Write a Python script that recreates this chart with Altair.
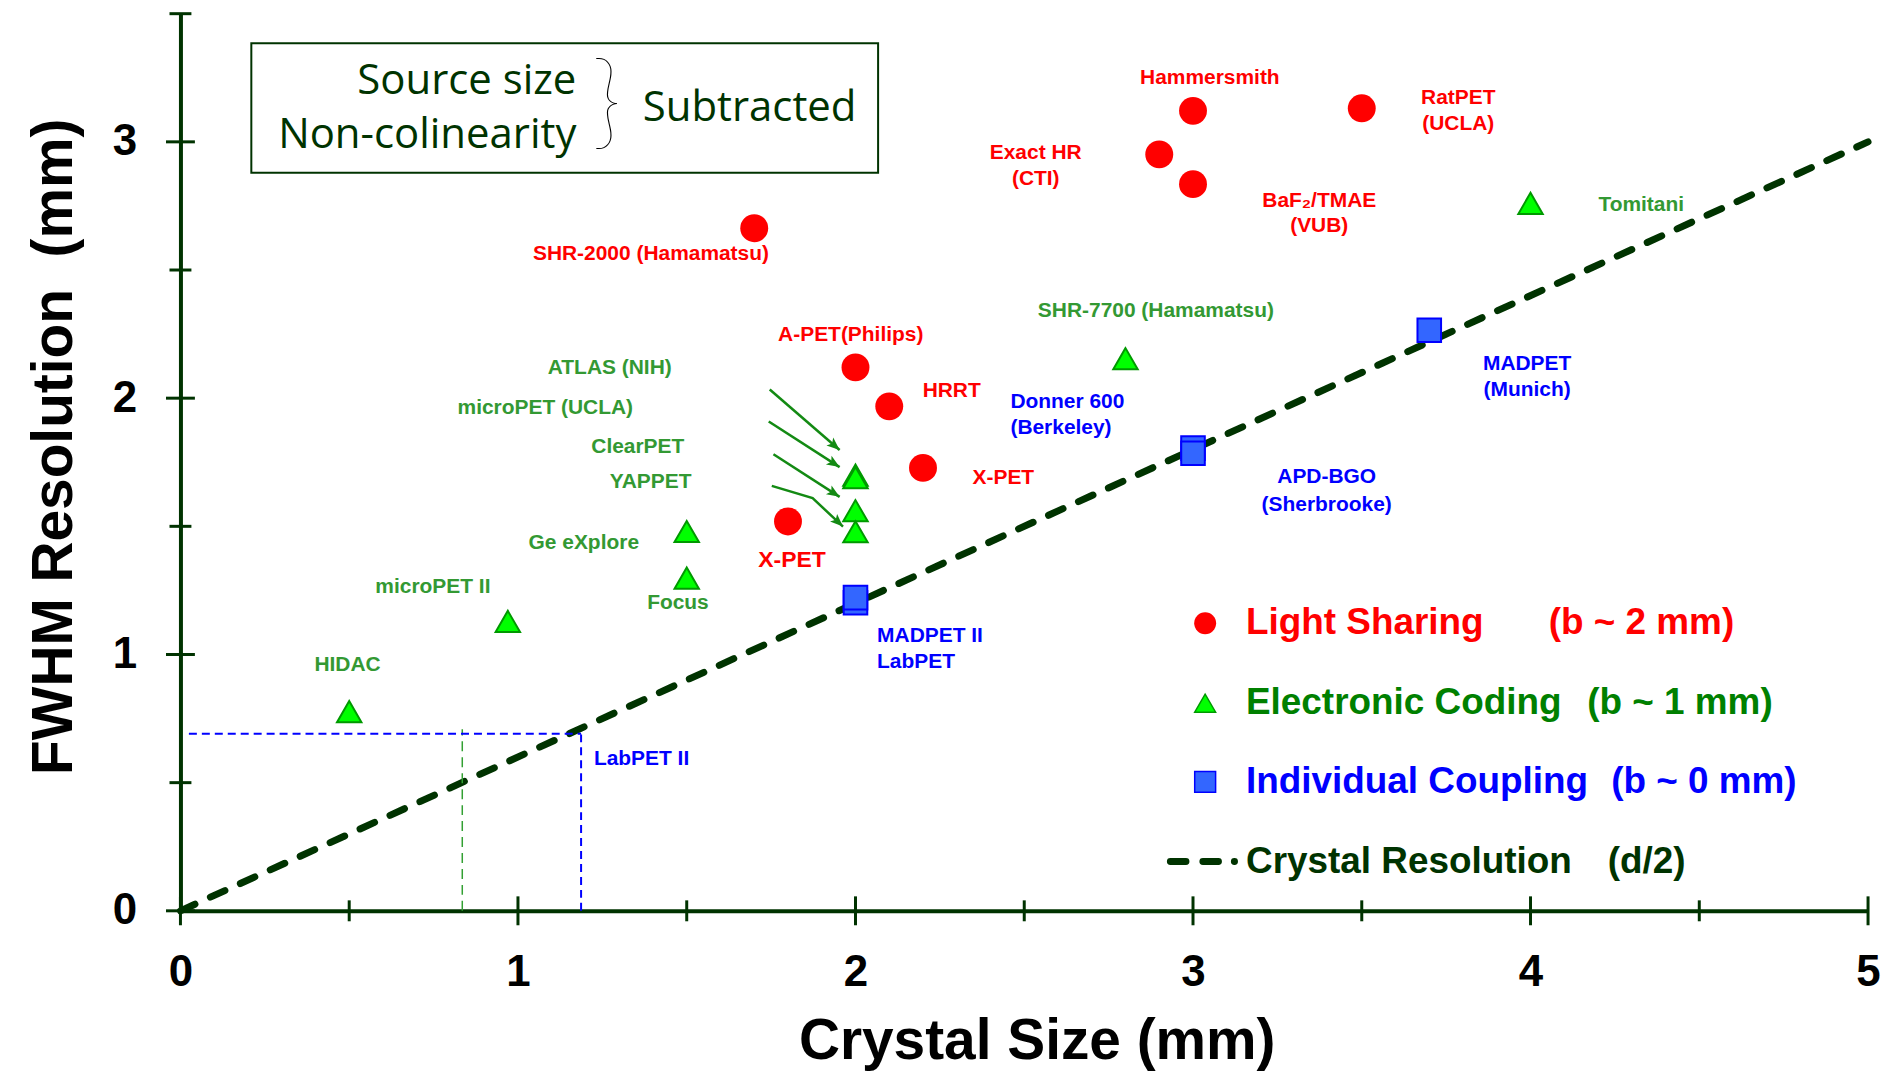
import math
import altair as alt
import pandas as pd

# ---------------- data ----------------
# Light Sharing (red circles)
ls_x = [1.7, 3.0, 3.5, 2.9, 3.0, 2.0, 2.1, 2.2, 1.8]
ls_y = [2.663, 3.121, 3.131, 2.951, 2.835, 2.12, 1.968, 1.728, 1.519]

# Electronic Coding (green triangles)
ec_x = [4.0, 2.8, 2.0, 2.0, 2.0, 2.0, 1.5, 1.5, 0.97, 0.5]
ec_y = [2.76, 2.154, 1.70, 1.69, 1.561, 1.479, 1.48, 1.298, 1.129, 0.777]

# Individual Coupling (blue squares)
ic_x = [2.0, 2.0, 3.0, 3.0, 3.7]
ic_y = [1.202, 1.222, 1.805, 1.785, 2.265]

# Crystal resolution line
crystal_x = [0.0, 5.0]
crystal_y = [0.0, 3.0]

# Labels
red_text = ["Hammersmith", "RatPET", "(UCLA)", "Exact HR", "(CTI)", "BaF\u2082/TMAE", "(VUB)",
            "SHR-2000 (Hamamatsu)", "A-PET(Philips)", "HRRT", "X-PET"]
red_x = [3.05, 3.786, 3.786, 2.534, 2.534, 3.374, 3.374, 1.394, 1.986, 2.285, 2.438]
red_y = [3.25, 3.172, 3.069, 2.958, 2.856, 2.77, 2.67, 2.563, 2.248, 2.028, 1.688]
red_big_text = ["X-PET"]
red_big_x = [1.812]
red_big_y = [1.37]

green_text = ["Tomitani", "SHR-7700 (Hamamatsu)", "ATLAS (NIH)", "microPET (UCLA)", "ClearPET",
              "YAPPET", "Ge eXplore", "Focus", "microPET II", "HIDAC"]
green_x = [4.328, 2.89, 1.272, 1.081, 1.355, 1.393, 1.195, 1.474, 0.748, 0.495]
green_y = [2.755, 2.339, 2.119, 1.963, 1.811, 1.674, 1.435, 1.199, 1.263, 0.958]

blue_c_text = ["MADPET", "(Munich)", "APD-BGO", "(Sherbrooke)"]
blue_c_x = [3.99, 3.99, 3.396, 3.396]
blue_c_y = [2.135, 2.031, 1.694, 1.584]
blue_l_text = ["Donner 600", "(Berkeley)", "MADPET II", "LabPET", "LabPET II"]
blue_l_x = [2.459, 2.459, 2.064, 2.064, 1.225]
blue_l_y = [1.986, 1.885, 1.071, 0.971, 0.591]

# Arrows (polylines) pointing at the x=2 stack
arrow_paths = [
    [(1.746, 2.034), (1.953, 1.798)],
    [(1.743, 1.909), (1.953, 1.731)],
    [(1.757, 1.781), (1.953, 1.615)],
    [(1.752, 1.658), (1.873, 1.610), (1.963, 1.499)],
]

# Guide lines (LabPET II)
guide_blue_h = dict(x=0.025, x2=1.187, y=0.691, y2=0.691)
guide_blue_v = dict(x=1.187, x2=1.187, y=0.0, y2=0.691)
guide_green_v = dict(x=0.835, x2=0.835, y=0.0, y2=0.708)

# Axis ticks
x_major = [0, 1, 2, 3, 4, 5]
x_minor = [0.5, 1.5, 2.5, 3.5, 4.5]
y_major = [0, 1, 2, 3]
y_minor = [0.5, 1.5, 2.5, 3.5]

# Legend
leg_names = ["Light Sharing", "Electronic Coding", "Individual Coupling", "Crystal Resolution"]
leg_notes = ["(b ~ 2 mm)", "(b ~ 1 mm)", "(b ~ 0 mm)", "(d/2)"]
leg_colors = ["#FF0000", "#008000", "#0000FF", "#003300"]
leg_rows_y = [1.122, 0.81, 0.503, 0.192]
leg_name_x = 3.157
leg_note_x = [4.054, 4.168, 4.239, 4.229]
leg_sym_x = 3.036
leg_line_x = [2.933, 3.123]

# Annotation box
box = dict(x=0.21, x2=2.067, y=3.385, y2=2.879)
box_left_text = ["Source size", "Non-colinearity"]
box_left_y = [3.187, 2.977]
box_left_x = 1.173
box_right_text = ["Subtracted"]
box_right_x = 1.37
box_right_y = 3.082
brace_x, brace_y = 1.263, 3.144

# ---------------- chart ----------------
W, H = 1693, 900
XMAX, YMAX = 5.0, 3.5
FONT = "Liberation Sans"
DK = "#003300"

xs = alt.Scale(domain=[0, XMAX], nice=False, zero=False)
ys = alt.Scale(domain=[0, YMAX], nice=False, zero=False)

x_axis = alt.Axis(values=x_major, format="d", ticks=False, tickSize=0, grid=False,
                  domainColor=DK, domainWidth=4, labelFont=FONT, labelFontWeight="bold",
                  labelFontSize=44, labelColor="black", labelPadding=40, labelFlush=False,
                  labelOverlap=False,
                  title="Crystal Size (mm)", titleFont=FONT, titleFontSize=57,
                  titleFontWeight="bold", titleColor="black", titleX=859, titleY=148,
                  titleAlign="center", titleBaseline="alphabetic")
y_axis = alt.Axis(values=y_major, format="d", ticks=False, tickSize=0, grid=False,
                  domainColor=DK, domainWidth=4, labelFont=FONT, labelFontWeight="bold",
                  labelFontSize=44, labelColor="black", labelPadding=44, labelFlush=False,
                  labelOverlap=False,
                  title="FWHM Resolution\u00a0 (mm)", titleFont=FONT, titleFontSize=57,
                  titleFontWeight="bold", titleColor="black", titleAngle=270,
                  titleX=-109, titleY=434, titleAlign="center", titleBaseline="alphabetic")


def X(field="x"):
    return alt.X(f"{field}:Q", scale=xs, axis=x_axis)


def Y(field="y"):
    return alt.Y(f"{field}:Q", scale=ys, axis=y_axis)


crystal = alt.Chart(pd.DataFrame({"x": crystal_x, "y": crystal_y})).mark_line(
    color=DK, strokeWidth=7, strokeDash=[16, 17], strokeCap="round"
).encode(x=X("x"), y=Y("y"))

box_layer = alt.Chart(pd.DataFrame([box])).mark_rect(
    fill="white", fillOpacity=0, stroke=DK, strokeWidth=2
).encode(x=X("x"), x2="x2:Q", y=Y("y"), y2="y2:Q")

guides_blue = alt.Chart(pd.DataFrame([guide_blue_h, guide_blue_v])).mark_rule(
    color="#0000FF", strokeWidth=2, strokeDash=[8, 5]
).encode(x=X("x"), x2="x2:Q", y=Y("y"), y2="y2:Q")
guides_green = alt.Chart(pd.DataFrame([guide_green_v])).mark_rule(
    color="#33A033", strokeWidth=1.5, strokeDash=[10, 6]
).encode(x=X("x"), x2="x2:Q", y=Y("y"), y2="y2:Q")

# arrows
px_x, px_y = W / XMAX, H / YMAX
arows, heads = [], []
for i, path in enumerate(arrow_paths):
    for j, (ax, ay) in enumerate(path):
        arows.append({"id": i, "o": j, "x": ax, "y": ay})
    (x0, y0), (x1, y1) = path[-2], path[-1]
    ang = math.degrees(math.atan2((x1 - x0) * px_x, (y1 - y0) * px_y)) % 360
    heads.append({"x": x1, "y": y1, "a": ang})
ARROW_COLOR = "#138A13"
arrow_lines = alt.Chart(pd.DataFrame(arows)).mark_line(
    color=ARROW_COLOR, strokeWidth=2.5
).encode(x=X("x"), y=Y("y"), detail="id:N", order="o:Q")
arrow_heads = alt.Chart(pd.DataFrame(heads)).mark_point(
    shape="M0,0L-0.6,1.5L0,1.15L0.6,1.5Z", filled=True, color=ARROW_COLOR, size=300, opacity=1
).encode(x=X("x"), y=Y("y"), angle=alt.Angle("a:Q", scale=None))


def text_layer(texts, tx, ty, color, size, align="center", font=FONT, weight="bold",
               baseline="middle"):
    df = pd.DataFrame({"t": texts, "x": tx, "y": ty})
    return alt.Chart(df).mark_text(
        align=align, baseline=baseline, color=color, fontSize=size, font=font,
        fontWeight=weight
    ).encode(x=X("x"), y=Y("y"), text="t:N")


labels = [
    text_layer(red_text, red_x, red_y, "#FF0000", 21),
    text_layer(red_big_text, red_big_x, red_big_y, "#FF0000", 23),
    text_layer(green_text, green_x, green_y, "#339933", 21),
    text_layer(blue_c_text, blue_c_x, blue_c_y, "#0000FF", 21),
    text_layer(blue_l_text, blue_l_x, blue_l_y, "#0000FF", 21, align="left"),
]

box_texts = [
    text_layer(box_left_text, [box_left_x] * 2, box_left_y, DK, 42, align="right",
               font="Open Sans", weight="normal", baseline="alphabetic"),
    text_layer(box_right_text, [box_right_x], [box_right_y], DK, 42, align="left",
               font="Open Sans", weight="normal", baseline="alphabetic"),
    text_layer(["}"], [brace_x], [brace_y], "black", 104, font="Lato", weight=100),
]

circles = alt.Chart(pd.DataFrame({"x": ls_x, "y": ls_y})).mark_point(
    shape="circle", filled=True, color="#FF0000", size=784, opacity=1
).encode(x=X("x"), y=Y("y"))
triangles = alt.Chart(pd.DataFrame({"x": ec_x, "y": ec_y})).mark_point(
    shape="triangle-up", filled=True, fill="#00FF00", stroke="#009900", strokeWidth=2,
    size=600, opacity=1
).encode(x=X("x"), y=Y("y"))
squares = alt.Chart(pd.DataFrame({"x": ic_x, "y": ic_y})).mark_point(
    shape="square", filled=True, fill="#3366FF", stroke="#0000FF", strokeWidth=2,
    size=560, opacity=1
).encode(x=X("x"), y=Y("y"))

# legend
leg_c = alt.Chart(pd.DataFrame({"x": [leg_sym_x], "y": [leg_rows_y[0]]})).mark_point(
    shape="circle", filled=True, color="#FF0000", size=484, opacity=1
).encode(x=X("x"), y=Y("y"))
leg_t = alt.Chart(pd.DataFrame({"x": [leg_sym_x], "y": [leg_rows_y[1]]})).mark_point(
    shape="triangle-up", filled=True, fill="#00FF00", stroke="#009900", strokeWidth=1.5,
    size=440, opacity=1
).encode(x=X("x"), y=Y("y"))
leg_s = alt.Chart(pd.DataFrame({"x": [leg_sym_x], "y": [leg_rows_y[2]]})).mark_point(
    shape="square", filled=True, fill="#3366FF", stroke="#0000FF", strokeWidth=1.5,
    size=440, opacity=1
).encode(x=X("x"), y=Y("y"))
leg_l = alt.Chart(pd.DataFrame({"x": leg_line_x, "y": [leg_rows_y[3]] * 2})).mark_line(
    color=DK, strokeWidth=7, strokeCap="round", strokeDash=[15.6, 17, 15.6, 16, 0.1, 200]
).encode(x=X("x"), y=Y("y"))
leg_texts = []
for i in range(4):
    leg_texts.append(text_layer([leg_names[i]], [leg_name_x], [leg_rows_y[i]], leg_colors[i], 37,
                                align="left"))
    leg_texts.append(text_layer([leg_notes[i]], [leg_note_x[i]], [leg_rows_y[i]], leg_colors[i], 37,
                                align="left"))

# axis ticks crossing the axis lines
zero = [0] * 10
xt_major = alt.Chart(pd.DataFrame({"x": x_major, "y": zero[:len(x_major)]})).mark_tick(
    orient="vertical", size=29, thickness=3, color=DK, opacity=1
).encode(x=X("x"), y=Y("y"))
xt_minor = alt.Chart(pd.DataFrame({"x": x_minor, "y": zero[:len(x_minor)]})).mark_tick(
    orient="vertical", size=21, thickness=3, color=DK, opacity=1
).encode(x=X("x"), y=Y("y"))
yt_major = alt.Chart(pd.DataFrame({"y": y_major, "x": zero[:len(y_major)]})).mark_tick(
    orient="horizontal", size=29, thickness=3, color=DK, opacity=1
).encode(x=X("x"), y=Y("y"))
yt_minor = alt.Chart(pd.DataFrame({"y": y_minor, "x": zero[:len(y_minor)]})).mark_tick(
    orient="horizontal", size=22, thickness=3, color=DK, opacity=1
).encode(x=X("x"), y=Y("y"))

chart = alt.layer(
    crystal, box_layer, guides_green, guides_blue, arrow_lines, arrow_heads,
    *labels, *box_texts, circles, triangles, squares,
    leg_c, leg_t, leg_s, leg_l, *leg_texts,
    xt_major, xt_minor, yt_major, yt_minor,
).properties(
    width=W, height=H,
    autosize=alt.AutoSizeParams(type="none"),
    padding={"left": 173, "top": 4, "right": 14, "bottom": 161},
).configure_view(stroke=None)

chart.save("out.html", embed_options={"renderer": "svg", "actions": False})
